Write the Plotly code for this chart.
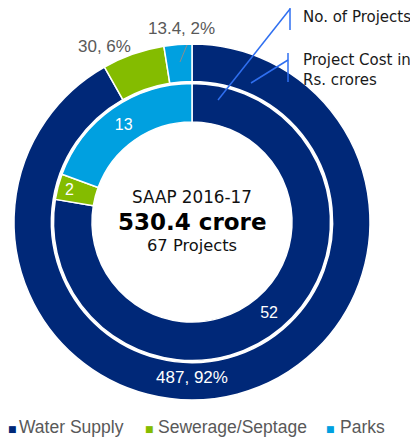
import plotly.graph_objects as go

# ---- data ----
categories = ["Water Supply", "Sewerage/Septage", "Parks"]
project_cost = [487, 30, 13.4]        # Rs. crores (outer ring)
cost_share_pct = [92, 6, 2]           # % labels as shown
num_projects = [52, 2, 13]            # inner ring
center_title = "SAAP 2016-17"
center_total = "530.4 crore"
center_sub = "67 Projects"
callout_projects = "No. of Projects"
callout_cost = "Project Cost in<br>Rs. crores"

colors = ["#002878", "#84BC00", "#00A0E0"]

OFF = 8  # page body margin
W, H = 418 - 2 * OFF, 446 - 2 * OFF
PW = PH = 356
ML, MT = 14 - OFF, 44 - OFF
MR, MB = W - ML - PW, H - MT - PH


def px(x):
    return (x - OFF - ML) / PW


def py(y):
    return (MT + PH - (y - OFF)) / PH


fig = go.Figure()

# outer ring: project cost
fig.add_trace(go.Pie(
    labels=categories,
    values=project_cost,
    customdata=cost_share_pct,
    texttemplate="%{value}, %{customdata}%",
    textposition=["inside", "none", "none"],
    insidetextorientation="horizontal",
    insidetextfont=dict(color="white", size=17, family="Liberation Sans, Arial"),
    marker=dict(colors=colors, line=dict(color="white", width=1.5)),
    hole=0.79,
    sort=False,
    direction="clockwise",
    rotation=0,
    domain=dict(x=[0, 1], y=[0, 1]),
    showlegend=False,
    hoverinfo="label+value",
))

# inner ring: number of projects
a = (1 - 277 / PW) / 2
fig.add_trace(go.Pie(
    labels=categories,
    values=num_projects,
    texttemplate="%{value}",
    textposition="inside",
    insidetextorientation="horizontal",
    insidetextfont=dict(color="white", size=16, family="Liberation Sans, Arial"),
    marker=dict(colors=colors, line=dict(color="white", width=1.5)),
    hole=100 / 138.5,
    sort=False,
    direction="clockwise",
    rotation=0,
    domain=dict(x=[a, 1 - a], y=[a, 1 - a]),
    showlegend=False,
    hoverinfo="label+value",
))

ann = []
# outside labels of the small outer slices
outside_pos = {1: (104, 46), 2: (181, 29)}
for i, (lx, ly) in outside_pos.items():
    ann.append(dict(x=px(lx), y=py(ly), text=f"{project_cost[i]}, {cost_share_pct[i]}%",
                    font=dict(size=17, color="#595959", family="Liberation Sans, Arial")))

# centre text
ann.append(dict(x=px(192), y=py(197), text=center_title, font=dict(size=16.8, color="#111111", family="DejaVu Sans")))
ann.append(dict(x=px(192), y=py(222), text="<b>" + center_total + "</b>", font=dict(size=23, color="#000000", family="DejaVu Sans")))
ann.append(dict(x=px(192), y=py(246), text=center_sub, font=dict(size=16.3, color="#111111", family="DejaVu Sans")))

# callouts
ann.append(dict(x=px(301), y=py(17), text=callout_projects, xanchor="left",
                font=dict(size=15, color="#1a1a1a", family="DejaVu Sans")))
ann.append(dict(x=px(301), y=py(70), text=callout_cost, xanchor="left", align="left",
                font=dict(size=15, color="#1a1a1a", family="DejaVu Sans")))

# legend (custom, from categories/colors)
legend_marker_x = [12.5, 149, 330.5]
legend_text_x = [18, 157, 339]
for cat, col, mx, tx in zip(categories, colors, legend_marker_x, legend_text_x):
    ann.append(dict(x=px(mx), y=py(429), text="■", font=dict(size=9, color=col, family="DejaVu Sans")))
    ann.append(dict(x=px(tx), y=py(427), text=cat, xanchor="left", borderpad=0,
                    font=dict(size=17.5, color="#595959", family="Liberation Sans, Arial")))

for an in ann:
    an.update(xref="paper", yref="paper", showarrow=False)
    an.setdefault("xanchor", "center")
    an.setdefault("yanchor", "middle")

blue = "#2F6FF0"
shapes = [
    dict(type="line", x0=px(218), y0=py(100), x1=px(290), y1=py(9), line=dict(color=blue, width=1.5)),
    dict(type="line", x0=px(290), y0=py(3), x1=px(290), y1=py(30), line=dict(color=blue, width=1.5)),
    dict(type="line", x0=px(251), y0=py(83), x1=px(288), y1=py(60), line=dict(color=blue, width=1.5)),
    dict(type="line", x0=px(288), y0=py(53), x1=px(288), y1=py(82), line=dict(color=blue, width=1.5)),
    dict(type="line", x0=px(180), y0=py(62), x1=px(187), y1=py(45), line=dict(color="#8c8c8c", width=1)),
]
for s in shapes:
    s.update(xref="paper", yref="paper")

fig.update_layout(
    width=W, height=H,
    margin=dict(l=ML, r=MR, t=MT, b=MB),
    paper_bgcolor="white", plot_bgcolor="white",
    annotations=ann, shapes=shapes,
    showlegend=False,
)

fig.write_html("out.html")
